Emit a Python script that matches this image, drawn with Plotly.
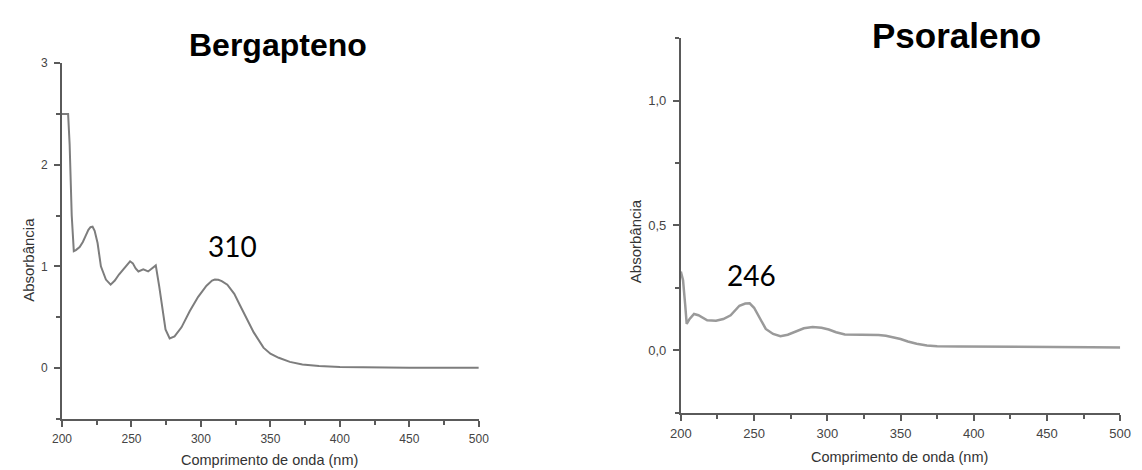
import plotly.graph_objects as go

# Bergapteno spectrum
wl_berg = [200, 204.4, 205.5, 207, 208.5, 210, 212.7, 215, 217, 219, 220.5, 222, 223.5, 225.6, 228, 231.6, 235,
           238, 241, 244, 247, 249, 251, 253, 255, 258.5, 262, 265, 267.5, 270, 272, 274.5, 277.5,
           281, 286, 292, 298, 304, 308, 310, 312.5, 315, 319, 324, 328, 333, 338, 345, 350, 356,
           364, 373, 385, 400, 420, 450, 480, 500]
abs_berg = [2.5, 2.5, 2.2, 1.5, 1.15, 1.16, 1.19, 1.24, 1.3, 1.36, 1.385, 1.39, 1.35, 1.23, 1.0, 0.87, 0.82,
            0.86, 0.92, 0.97, 1.02, 1.05, 1.03, 0.98, 0.95, 0.97, 0.95, 0.98, 1.01, 0.8, 0.6, 0.38, 0.29,
            0.31, 0.40, 0.56, 0.70, 0.81, 0.86, 0.87, 0.868, 0.855, 0.82, 0.73, 0.62, 0.48, 0.35, 0.2, 0.14, 0.1,
            0.06, 0.035, 0.02, 0.01, 0.005, 0.003, 0.003, 0.002]

# Psoraleno spectrum
wl_psor = [200, 201.5, 203, 204, 206, 209, 212, 218, 224, 229, 234, 240, 244, 247, 250,
           254, 258, 263, 268, 273, 278, 284, 290, 296, 301, 306, 312, 320, 328, 335, 340,
           345, 350, 355, 361, 368, 375, 390, 420, 450, 480, 500]
abs_psor = [0.315, 0.28, 0.18, 0.105, 0.125, 0.145, 0.14, 0.12, 0.118, 0.125, 0.14, 0.178,
            0.187, 0.188, 0.17, 0.125, 0.085, 0.065, 0.056, 0.062, 0.075, 0.088, 0.093, 0.09,
            0.083, 0.072, 0.063, 0.062, 0.063, 0.061, 0.058, 0.052, 0.045, 0.035, 0.026, 0.019,
            0.016, 0.015, 0.015, 0.014, 0.012, 0.011]

x_ticks = [200, 250, 300, 350, 400, 450, 500]
y_ticks_berg = [0, 1, 2, 3]
y_ticks_psor = [0.0, 0.5, 1.0]

titles = ["Bergapteno", "Psoraleno"]
peak_labels = ["310", "246"]
x_title = "Comprimento de onda (nm)"
y_title = "Absorbância"

W, H = 1142, 470
def px(x): return x / W
def py(y): return (H - y) / H

fig = go.Figure()
fig.add_trace(go.Scatter(x=wl_berg, y=abs_berg, mode="lines",
                         line=dict(color="#7d7d7d", width=2), xaxis="x", yaxis="y",
                         showlegend=False, hoverinfo="skip"))
fig.add_trace(go.Scatter(x=wl_psor, y=abs_psor, mode="lines",
                         line=dict(color="#9a9a9a", width=2.5), xaxis="x2", yaxis="y2",
                         showlegend=False, hoverinfo="skip"))

axis_common = dict(showline=True, linecolor="#5a5a5a", linewidth=2, showgrid=False,
                   zeroline=False, ticks="outside", tickcolor="#5a5a5a", tickwidth=1.5,
                   ticklen=6)
tickfont_l = dict(family="Liberation Sans, Arial", size=12, color="#444")
tickfont_r = dict(family="Liberation Sans, Arial", size=13, color="#444")
minor_x = dict(ticks="outside", dtick=25, tick0=200, ticklen=4, tickcolor="#5a5a5a", tickwidth=1.5)

fig.update_layout(
    width=W, height=H, margin=dict(l=0, r=0, t=0, b=0),
    paper_bgcolor="white", plot_bgcolor="white",
    separators=",.",
    xaxis=dict(domain=[px(52), px(477)], range=[200, 500], anchor="y",
               tickvals=x_ticks, tickfont=tickfont_l, ticklabelstandoff=2,
               minor=minor_x, **axis_common),
    yaxis=dict(domain=[py(418), py(57)], range=[-0.5, 3], anchor="x",
               tickvals=y_ticks_berg, tickfont=tickfont_l, ticklabelstandoff=4,
               minor=dict(ticks="outside", dtick=0.5, tick0=0, ticklen=4,
                          tickcolor="#5a5a5a", tickwidth=1.5),
               **axis_common),
    xaxis2=dict(domain=[px(683), px(1131)], range=[200, 500], anchor="y2",
                tickvals=x_ticks, tickfont=tickfont_r, ticklabelstandoff=2,
                minor=minor_x, **axis_common),
    yaxis2=dict(domain=[py(411.7), py(31.7)], range=[-0.25, 1.25], anchor="x2",
                tickvals=y_ticks_psor, tickformat=".1f", tickfont=tickfont_r,
                ticklabelstandoff=4,
                minor=dict(ticks="outside", dtick=0.25, tick0=0, ticklen=4,
                           tickcolor="#5a5a5a", tickwidth=1.5),
                **axis_common),
)

ann = []
# chart titles
ann.append(dict(text=f"<b>{titles[0]}</b>", x=px(272), y=py(39), xref="paper", yref="paper",
                xanchor="center", yanchor="middle", showarrow=False,
                font=dict(family="Liberation Sans, Arial", size=32, color="black")))
ann.append(dict(text=f"<b>{titles[1]}</b>", x=px(964), y=py(29), xref="paper", yref="paper",
                xanchor="center", yanchor="middle", showarrow=False,
                font=dict(family="Liberation Sans, Arial", size=35, color="black")))
# peak labels
ann.append(dict(text=peak_labels[0], x=px(226), y=py(243), xref="paper", yref="paper",
                xanchor="center", yanchor="middle", showarrow=False,
                font=dict(family="Lato, Open Sans", size=28, color="black")))
ann.append(dict(text=peak_labels[1], x=px(755), y=py(272), xref="paper", yref="paper",
                xanchor="center", yanchor="middle", showarrow=False,
                font=dict(family="Lato, Open Sans", size=28, color="black")))
# axis titles
for (xx, yy) in [(264, 460), (906, 457)]:
    ann.append(dict(text=x_title, x=px(xx), y=py(yy), xref="paper", yref="paper",
                    xanchor="center", yanchor="middle", showarrow=False,
                    font=dict(family="Liberation Sans, Arial", size=14.5, color="#333")))
for (xx, yy) in [(17, 257), (637, 238)]:
    ann.append(dict(text=y_title, x=px(xx), y=py(yy), xref="paper", yref="paper",
                    xanchor="center", yanchor="middle", showarrow=False, textangle=-90,
                    font=dict(family="Liberation Sans, Arial", size=15, color="#333")))
fig.update_layout(annotations=ann)

fig.write_html("out.html")
